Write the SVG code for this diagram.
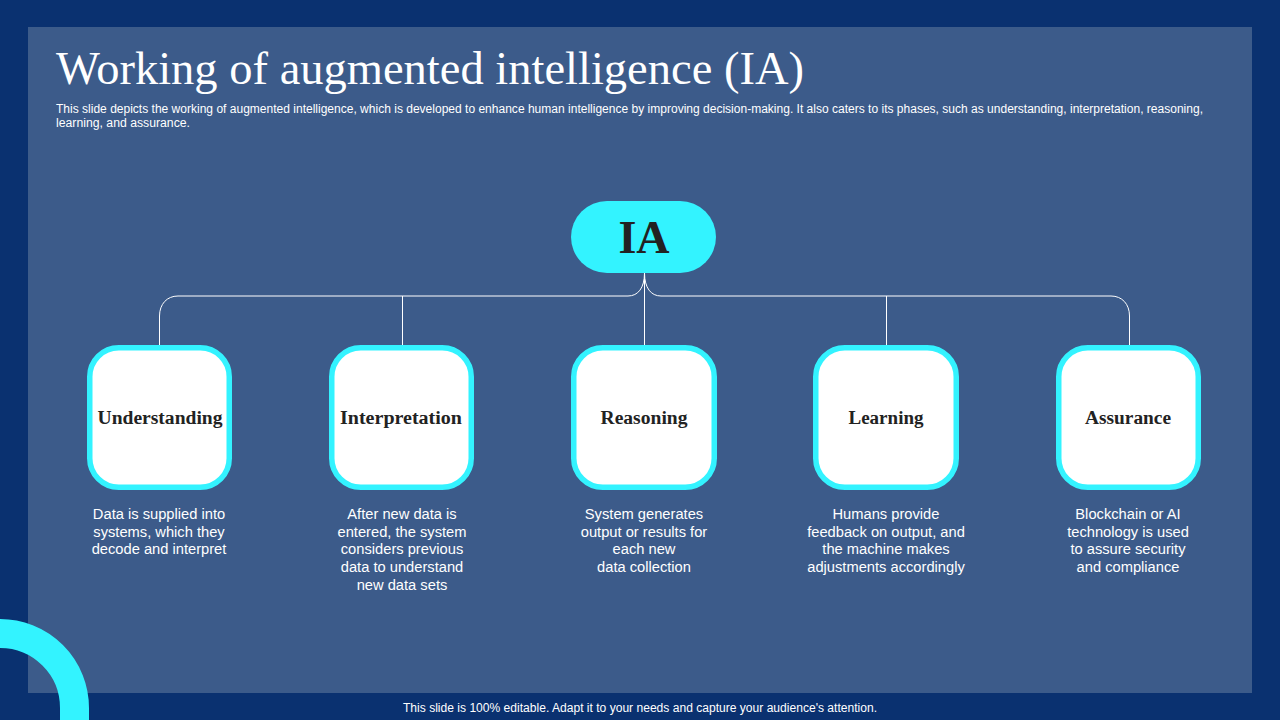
<svg xmlns="http://www.w3.org/2000/svg" width="1280" height="720" viewBox="0 0 1280 720">
<style>
.s{font-family:"Liberation Sans",Arial,sans-serif;fill:#fff}
.d{font-size:14.7px;text-anchor:middle}
.t{font-family:"Liberation Serif","Times New Roman",serif;font-weight:bold;font-size:18px;fill:#222;text-anchor:middle}
.box{fill:#fff;stroke:#33f3ff;stroke-width:5.5}
.c{fill:none;stroke:#fff;stroke-width:1}
</style>
<rect width="1280" height="720" fill="#0a3170"/>
<rect x="28" y="27" width="1224" height="666" fill="#3c5b8a"/>
<path d="M0 633.500A74.500 74.500 0 0 1 74.500 708V720" fill="none" stroke="#33f3ff" stroke-width="29"/>
<text x="56" y="84" font-family="Liberation Serif,serif" font-size="47" fill="#fff" textLength="748" lengthAdjust="spacingAndGlyphs">Working of augmented intelligence (IA)</text>
<text class="s" x="56" y="113" font-size="12" textLength="1147" lengthAdjust="spacingAndGlyphs">This slide depicts the working of augmented intelligence, which is developed to enhance human intelligence by improving decision-making. It also caters to its phases, such as understanding, interpretation, reasoning,</text>
<text class="s" x="56" y="127" font-size="12" textLength="134" lengthAdjust="spacingAndGlyphs">learning, and assurance.</text>
<g id="connectors">
<path class="c" d="M644.500 273V345"/>
<path class="c" d="M644.500 273C644.500 288 638 296 628 296H178C167 296 159.500 304 159.500 316V345"/>
<path class="c" d="M644.500 273C644.500 288 651 296 661 296H1111C1122 296 1129.500 304 1129.500 316V345"/>
<path class="c" d="M402.500 296V345"/>
<path class="c" d="M886.500 296V345"/>
</g>
<g id="node-ia">
<rect x="571" y="201" width="145" height="72" rx="36" fill="#33f3ff"/>
<text x="644" y="253" font-family="Liberation Serif,serif" font-weight="bold" font-size="46" fill="#222" text-anchor="middle">IA</text>
</g>
<g id="node-understanding">
<rect class="box" x="89.750" y="347.750" width="139.500" height="139.500" rx="29"/>
<text class="t" x="160" y="423.500" textLength="125" lengthAdjust="spacingAndGlyphs">Understanding</text>
<text class="s d"><tspan x="159" y="519">Data is supplied into</tspan><tspan x="159" y="537">systems, which they</tspan><tspan x="159" y="554">decode and interpret</tspan></text>
</g>
<g id="node-interpretation">
<rect class="box" x="331.750" y="347.750" width="139.500" height="139.500" rx="29"/>
<text class="t" x="401" y="423.500" textLength="122" lengthAdjust="spacingAndGlyphs">Interpretation</text>
<text class="s d"><tspan x="402" y="519">After new data is</tspan><tspan x="402" y="537">entered, the system</tspan><tspan x="402" y="554">considers previous</tspan><tspan x="402" y="572">data to understand</tspan><tspan x="402" y="590">new data sets</tspan></text>
</g>
<g id="node-reasoning">
<rect class="box" x="573.750" y="347.750" width="140.500" height="139.500" rx="29"/>
<text class="t" x="644" y="423.500" textLength="87" lengthAdjust="spacingAndGlyphs">Reasoning</text>
<text class="s d"><tspan x="644" y="519">System generates</tspan><tspan x="644" y="537">output or results for</tspan><tspan x="644" y="554">each new</tspan><tspan x="644" y="572">data collection</tspan></text>
</g>
<g id="node-learning">
<rect class="box" x="815.750" y="347.750" width="140.500" height="139.500" rx="29"/>
<text class="t" x="886" y="423.500" textLength="75" lengthAdjust="spacingAndGlyphs">Learning</text>
<text class="s d"><tspan x="886" y="519">Humans provide</tspan><tspan x="886" y="537">feedback on output, and</tspan><tspan x="886" y="554">the machine makes</tspan><tspan x="886" y="572">adjustments accordingly</tspan></text>
</g>
<g id="node-assurance">
<rect class="box" x="1058.750" y="347.750" width="139.500" height="139.500" rx="29"/>
<text class="t" x="1128" y="423.500" textLength="86" lengthAdjust="spacingAndGlyphs">Assurance</text>
<text class="s d"><tspan x="1128" y="519">Blockchain or AI</tspan><tspan x="1128" y="537">technology is used</tspan><tspan x="1128" y="554">to assure security</tspan><tspan x="1128" y="572">and compliance</tspan></text>
</g>
<text class="s" x="640" y="712" font-size="12" text-anchor="middle" textLength="474" lengthAdjust="spacingAndGlyphs">This slide is 100% editable. Adapt it to your needs and capture your audience's attention.</text>
</svg>
